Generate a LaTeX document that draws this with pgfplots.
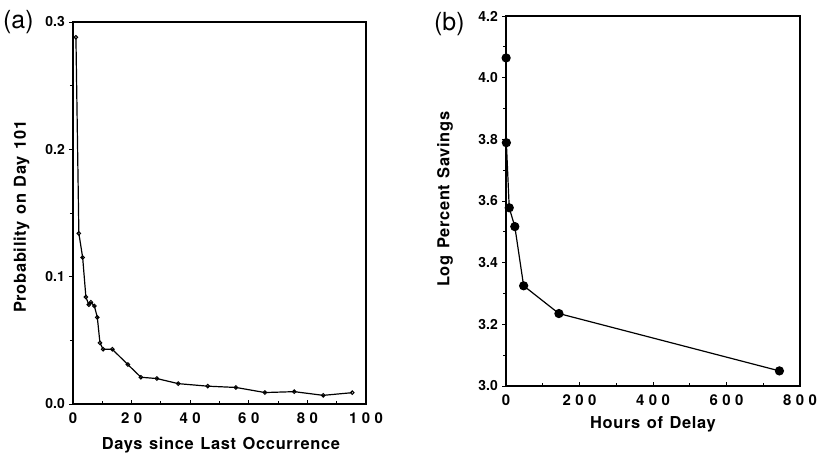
\documentclass[border=0pt]{standalone}
\usepackage{fontspec}
\setmainfont{TeX Gyre Heros}
\newfontfamily\labfont[LetterSpace=4]{TeX Gyre Heros}
\usepackage{pgfplots}
\pgfplotsset{compat=1.18}

\newcommand{\gp}{\kern4.5bp}
\newcommand{\labsetup}{\labfont\fontsize{16.5}{19}\selectfont\bfseries\spaceskip=0.4em plus 0.1em\relax}

\begin{document}
\begin{tikzpicture}
\useasboundingbox (0,0) rectangle (824bp,-460bp);

\pgfplotsset{
  every axis/.append style={
    scale only axis,
    axis line style={line width=1.2bp},
    /pgf/number format/assume math mode=true,
    tick style={line width=0.9bp,black},
    xtick align=inside,
    ytick align=outside,
    xtick pos=bottom,
    ytick pos=left,
    major tick length=4bp,
    minor tick length=3bp,
    xticklabel style={font=\fontsize{15}{17}\selectfont\bfseries, inner sep=0pt, yshift=-8bp},
    yticklabel style={font=\fontsize{14}{16}\selectfont\bfseries, inner sep=0pt, xshift=-4bp},
    label style={font=\labsetup, inner sep=0pt},
  }
}

% ---------------- Panel (a) ----------------
\begin{axis}[
  at={(73bp,-404bp)}, anchor=south west,
  width=293bp, height=382bp,
  xmin=0, xmax=100, ymin=0, ymax=0.3,
  xtick={0,20,40,60,80,100},
  xticklabels={0,2\gp0,4\gp0,6\gp0,8\gp0,1\gp0\gp0},
  minor xtick={10,30,50,70,90},
  ytick={0,0.1,0.2,0.3},
  yticklabels={0.0,0.1,0.2,0.3},
  minor ytick={0.05,0.15,0.25},
  xlabel={Days since Last Occurrence},
  ylabel={Probability on Day 101},
  xlabel style={at={(axis description cs:0.505,0)}, anchor=north, yshift=-33bp},
  ylabel style={at={(axis description cs:-0.148,0.49)}, anchor=south},
]
\addplot[black, line width=1.2bp, mark=o, mark size=1.8bp, mark options={line width=1bp, fill=white}] coordinates {
(1,0.288) (2,0.134) (3.3,0.115) (4.4,0.084) (5.4,0.078) (6.1,0.080)
(7.3,0.077) (8.3,0.068) (9.2,0.048) (10.3,0.043) (13.4,0.043)
(18.7,0.031) (23.2,0.021) (28.6,0.020) (35.9,0.016) (46,0.014)
(55.6,0.013) (65.5,0.009) (75.5,0.0097) (85.4,0.0068) (95.3,0.0089)
};
\end{axis}

% ---------------- Panel (b) ----------------
\begin{axis}[
  at={(506bp,-386bp)}, anchor=south west,
  width=294bp, height=370bp,
  xmin=0, xmax=800, ymin=3.0, ymax=4.2,
  xtick={0,200,400,600,800},
  xticklabels={0,2\gp0\gp0,4\gp0\gp0,6\gp0\gp0,8\gp0\gp0},
  minor xtick={100,300,500,700},
  ytick={3.0,3.2,3.4,3.6,3.8,4.0,4.2},
  yticklabels={3.0,3.2,3.4,3.6,3.8,4.0,4.2},
  minor ytick={3.1,3.3,3.5,3.7,3.9,4.1},
  xlabel={Hours of Delay},
  ylabel={Log Percent Savings},
  xlabel style={at={(axis description cs:0.5,0)}, anchor=north, yshift=-30bp},
  ylabel style={at={(axis description cs:-0.18,0.505)}, anchor=south},
]
\addplot[black, line width=1.2bp, mark=*, mark size=4bp] coordinates {
(0.33,4.064) (1,3.789) (8.8,3.578) (24,3.517) (48,3.325) (144,3.235) (744,3.049)
};
\end{axis}

\node[anchor=west, font=\fontsize{25}{30}\selectfont, inner sep=0pt] at (3bp,-22bp) {(a)};
\node[anchor=west, font=\fontsize{25}{30}\selectfont, inner sep=0pt] at (434bp,-24bp) {(b)};
\end{tikzpicture}
\end{document}
